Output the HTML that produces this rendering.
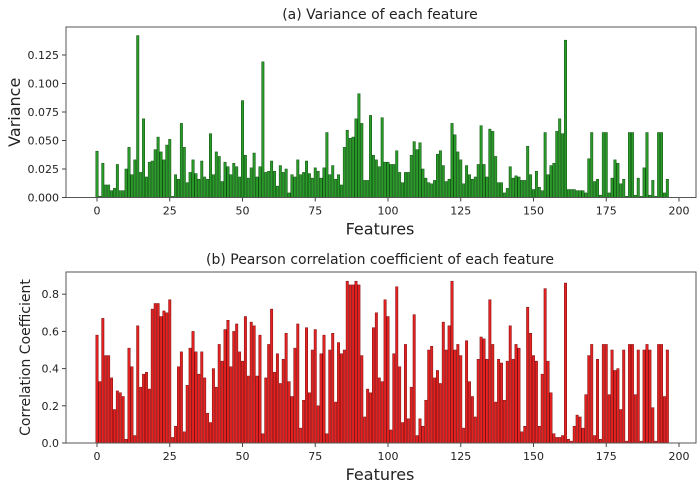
<!DOCTYPE html>
<html><head><meta charset="utf-8"><style>
html,body{margin:0;padding:0;background:#fff;}
svg{display:block;font-family:"DejaVu Sans","Liberation Sans",sans-serif;}
</style></head><body>
<svg id="c" width="700" height="488" viewBox="0 0 700 488"></svg>
<script>
const varianceValues=[.0406,.001,.030,.011,.011,.006,.008,.029,.006,.006,
.025,.044,.020,.033,.142,.022,.069,.018,.031,.032,
.042,.053,.040,.033,.046,.051,.001,.020,.016,.065,
.044,.013,.022,.033,.021,.016,.032,.018,.016,.056,
.020,.040,.036,.014,.031,.027,.020,.030,.027,.018,
.085,.037,.017,.026,.039,.018,.027,.119,.022,.023,
.032,.023,.010,.028,.022,.025,.004,.020,.018,.033,
.020,.022,.032,.021,.017,.026,.023,.017,.026,.057,
.020,.028,.016,.020,.011,.044,.059,.052,.053,.069,
.091,.065,.015,.015,.072,.037,.033,.027,.070,.031,
.031,.029,.029,.041,.022,.013,.022,.022,.037,.049,
.042,.048,.025,.017,.013,.012,.015,.038,.041,.028,
.014,.016,.065,.055,.040,.033,.012,.028,.020,.016,
.018,.029,.063,.029,.018,.060,.058,.036,.013,.013,
.004,.008,.027,.017,.019,.018,.015,.015,.045,.020,
.007,.023,.009,.006,.057,.020,.028,.030,.058,.069,
.056,.138,.007,.007,.007,.006,.006,.006,.004,.034,
.057,.014,.016,.002,.057,.057,.004,.017,.033,.030,
.012,.016,.001,.057,.057,.002,.017,.001,.026,.057,
.002,.015,.001,.057,.057,.004,.016];
const correlationValues=[0.58,0.33,0.67,0.47,0.47,0.35,0.18,0.28,0.27,0.25,
0.02,0.51,0.41,0.04,0.63,0.30,0.37,0.38,0.29,0.72,
0.75,0.75,0.68,0.71,0.70,0.77,0.03,0.09,0.41,0.49,
0.06,0.31,0.51,0.60,0.49,0.37,0.49,0.35,0.16,0.11,
0.40,0.30,0.53,0.44,0.61,0.66,0.41,0.60,0.64,0.49,
0.44,0.68,0.36,0.65,0.63,0.36,0.58,0.05,0.35,0.53,
0.72,0.38,0.48,0.32,0.45,0.59,0.33,0.25,0.51,0.64,
0.08,0.23,0.62,0.27,0.50,0.61,0.20,0.48,0.58,0.05,
0.50,0.59,0.22,0.54,0.48,0.50,0.87,0.85,0.85,0.87,
0.85,0.47,0.14,0.29,0.27,0.62,0.70,0.35,0.33,0.77,
0.68,0.07,0.48,0.84,0.41,0.11,0.53,0.13,0.30,0.69,
0.04,0.13,0.09,0.23,0.50,0.52,0.35,0.39,0.32,0.65,
0.50,0.63,0.87,0.50,0.53,0.47,0.08,0.55,0.33,0.25,
0.14,0.45,0.57,0.56,0.45,0.77,0.53,0.22,0.45,0.43,
0.23,0.44,0.63,0.45,0.53,0.51,0.06,0.09,0.73,0.59,
0.47,0.44,0.09,0.37,0.83,0.44,0.27,0.05,0.03,0.03,
0.04,0.86,0.02,0.01,0.09,0.15,0.14,0.08,0.26,0.47,
0.53,0.04,0.45,0.02,0.53,0.53,0.26,0.50,0.39,0.40,
0.18,0.50,0.01,0.53,0.53,0.26,0.50,0.01,0.50,0.53,
0.50,0.19,0.01,0.53,0.53,0.25,0.50];
const xTicks=[0,25,50,75,100,125,150,175,200];
const varianceTicks=[0,0.025,0.05,0.075,0.1,0.125];
const varianceTickLabels=["0.000","0.025","0.050","0.075","0.100","0.125"];
const corrTicks=[0,0.2,0.4,0.6,0.8];
const corrTickLabels=["0.0","0.2","0.4","0.6","0.8"];

const NS="http://www.w3.org/2000/svg";
const svg=document.getElementById('c');
function mk(tag,attrs,parent){const e=document.createElementNS(NS,tag);for(const k in attrs)e.setAttribute(k,attrs[k]);(parent||svg).appendChild(e);return e;}
function xScale(i){return 97+i*2.91;}

function panel(o){
  const g=mk('g',{});
  
  
  const yS=v=>o.base-v/o.unit*o.unitPx;
  const t=mk('text',{x:380,y:o.titleY,'text-anchor':'middle','font-size':14,fill:'#222'},g);
  t.textContent=o.title;
  
  
  o.values.forEach((v,i)=>{
    const y=yS(v);
    const r=mk('rect',{x:xScale(i)-1.2,y:y,width:2.4,height:Math.max(0.3,o.base-y),fill:o.fill,stroke:o.stroke,'stroke-width':0.5},g);
    
    
  });
  const f=mk('rect',{x:66,y:o.top,width:630,height:o.base-o.top,fill:'none',stroke:'#555','stroke-width':1},g);
  
  
  o.yTicks.forEach((v,k)=>{
    const y=yS(v);
    mk('line',{x1:62,x2:66,y1:y,y2:y,stroke:'#444'},g);
    const tl=mk('text',{x:59,y:y+4,'text-anchor':'end','font-size':11,fill:'#222'},g);
    tl.textContent=o.yLabels[k];
    
    
  });
  xTicks.forEach(v=>{
    const x=xScale(v);
    mk('line',{x1:x,x2:x,y1:o.base,y2:o.base+4,stroke:'#444'},g);
    const tl=mk('text',{x:x,y:o.base+17,'text-anchor':'middle','font-size':11,fill:'#222'},g);
    tl.textContent=v;
    
    
  });
  const xl=mk('text',{x:380,y:o.base+37,'text-anchor':'middle','font-size':16,fill:'#222'},g);
  xl.textContent='Features';
  
  
  const cy=(o.top+o.base)/2;
  const yl=mk('text',{x:o.ylX,y:cy,'text-anchor':'middle','font-size':o.ylSize,fill:'#222',transform:`rotate(-90 ${o.ylX} ${cy})`},g);
  yl.textContent=o.yTitle;
  
  
}
panel({name:'variance-chart',title:'(a) Variance of each feature',titleY:19,values:varianceValues,base:197.5,top:27,unit:0.025,unitPx:28.5,
  fill:'#2a9a2a',stroke:'#0b4d0b',yTicks:varianceTicks,yLabels:varianceTickLabels,yTitle:'Variance',ylX:20,ylSize:16});
panel({name:'correlation-chart',title:'(b) Pearson correlation coefficient of each feature',titleY:264,values:correlationValues,base:443,top:272,unit:0.2,unitPx:37.2,
  fill:'#e52222',stroke:'#7a0d0d',yTicks:corrTicks,yLabels:corrTickLabels,yTitle:'Correlation Coefficient',ylX:30,ylSize:14});
</script>
</body></html>
